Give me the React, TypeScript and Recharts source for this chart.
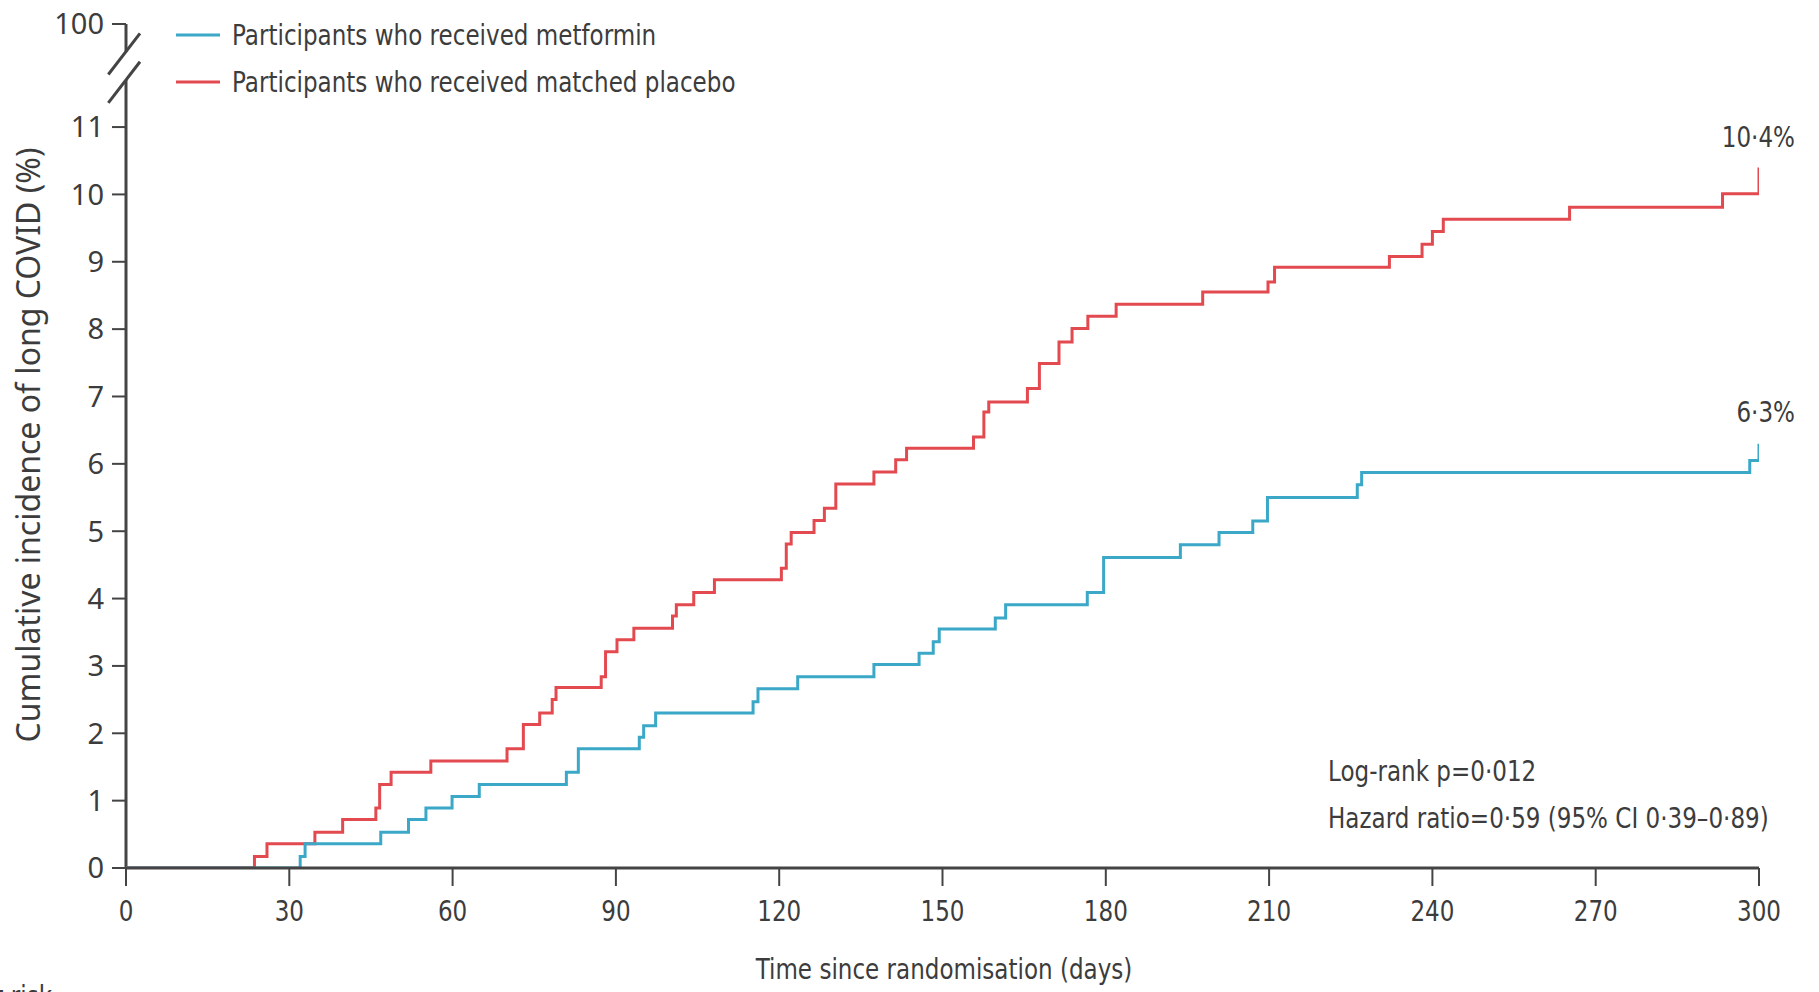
import React from 'react';
import { LineChart, Line, XAxis, YAxis, ReferenceLine, ReferenceDot, Label, Customized } from 'recharts';

// Kaplan-Meier style cumulative incidence (step points: day, %)
const placeboDays = [0, 23.6, 25.9, 34.7, 39.8, 45.9, 46.6, 48.7, 56.0, 70.0, 73.0, 76.0, 78.3, 79.0, 87.3, 88.1, 90.2, 93.3, 100.4, 101.1, 104.3, 108.1, 120.4, 121.3, 122.2, 126.4, 128.3, 130.4, 137.4, 141.4, 143.4, 155.7, 157.6, 158.5, 165.6, 167.8, 171.4, 173.8, 176.7, 181.9, 197.8, 209.8, 211.0, 232.1, 238.1, 240.0, 242.0, 265.2, 293.3, 300];
const placeboPct = [0, 0.17, 0.36, 0.53, 0.72, 0.89, 1.24, 1.42, 1.59, 1.77, 2.13, 2.30, 2.50, 2.68, 2.84, 3.21, 3.39, 3.56, 3.74, 3.91, 4.09, 4.28, 4.45, 4.81, 4.98, 5.16, 5.34, 5.70, 5.88, 6.06, 6.23, 6.40, 6.77, 6.92, 7.12, 7.49, 7.81, 8.01, 8.19, 8.37, 8.55, 8.70, 8.92, 9.08, 9.26, 9.45, 9.63, 9.81, 10.01, 10.4];

const metforminDays = [0, 32.0, 32.9, 46.8, 51.9, 55.1, 59.9, 64.9, 80.9, 83.1, 94.3, 95.1, 97.3, 115.2, 116.1, 123.4, 137.4, 145.7, 148.3, 149.4, 159.7, 161.6, 176.6, 179.6, 193.7, 200.8, 207.0, 209.7, 226.2, 227.0, 298.3, 300];
const metforminPct = [0, 0.17, 0.36, 0.53, 0.72, 0.89, 1.06, 1.24, 1.42, 1.77, 1.94, 2.11, 2.30, 2.47, 2.66, 2.84, 3.02, 3.19, 3.36, 3.55, 3.71, 3.91, 4.09, 4.61, 4.80, 4.98, 5.15, 5.50, 5.69, 5.87, 6.05, 6.3];

const xTicks = [0, 30, 60, 90, 120, 150, 180, 210, 240, 270, 300];
const BREAK_TOP = 12.53; // axis position standing for 100 (broken axis)
const yTicks = [0, 1, 2, 3, 4, 5, 6, 7, 8, 9, 10, 11, BREAK_TOP];

const seriesNames = ['Participants who received metformin', 'Participants who received matched placebo'];
const finalLabels = ['6·3%', '10·4%'];
const statsLines = ['Log-rank p=0·012', 'Hazard ratio=0·59 (95% CI 0·39–0·89)'];

const BLUE = '#3ba8c8';
const RED = '#e24a50';
const AXIS = '#444';
const TEXT = '#3c3c3c';
const NARROW = "'DejaVu Sans', sans-serif";
const WIDE = "'Noto Sans', 'Open Sans', sans-serif";
const SQUEEZE = 0.795;

const placeboData = placeboDays.map((d, i) => ({ day: d, pct: placeboPct[i] }));
const metforminData = metforminDays.map((d, i) => ({ day: d, pct: metforminPct[i] }));

const NarrowText = ({ x, y, anchor = 'start', size = 29, children }: any) => (
  <text
    transform={`translate(${x},${y}) scale(${SQUEEZE},1)`}
    textAnchor={anchor}
    fontSize={size}
    fontFamily={NARROW}
    fill={TEXT}
  >
    {children}
  </text>
);

const XTick = (props: any) => {
  const { x, y, payload } = props;
  return <NarrowText x={x} y={y + 21} anchor="middle">{payload.value}</NarrowText>;
};

const Extras = () => (
  <g>
    {[BLUE, RED].map((c, i) => (
      <g key={i}>
        <line x1={176} x2={220} y1={35 + i * 47} y2={35 + i * 47} stroke={c} strokeWidth={3} />
        <NarrowText x={232} y={45 + i * 47}>{seriesNames[i]}</NarrowText>
      </g>
    ))}
    <NarrowText x={1328} y={781}>{statsLines[0]}</NarrowText>
    <NarrowText x={1328} y={828}>{statsLines[1]}</NarrowText>
    <NarrowText x={52} y={1006} anchor="end">Number at risk</NarrowText>
  </g>
);

const endLabel = (text: string, offset: number) => (p: any) => {
  const vb = p.viewBox || {};
  const cx = (vb.x || 0) + (vb.width || 0) / 2;
  const cy = (vb.y || 0) + (vb.height || 0) / 2;
  return <NarrowText x={cx + 36} y={cy - offset} anchor="end">{text}</NarrowText>;
};

export default function App() {
  return (
    <div style={{ width: 1819, height: 992, background: '#fff', position: 'relative' }}>
      <style>{`body{margin:0;background:#fff}`}</style>
      <LineChart width={1819} height={992} margin={{ top: 24, right: 60, left: 0, bottom: 0 }}>
        <XAxis
          type="number"
          dataKey="day"
          domain={[0, 300]}
          ticks={xTicks}
          allowDataOverflow
          height={124}
          axisLine={{ stroke: AXIS, strokeWidth: 3 }}
          tickLine={{ stroke: AXIS, strokeWidth: 2 }}
          tickSize={18}
          tickMargin={14}
          tick={XTick}
        >
          <Label content={() => <NarrowText x={944} y={979} anchor="middle">Time since randomisation (days)</NarrowText>} />
        </XAxis>
        <YAxis
          type="number"
          domain={[0, BREAK_TOP]}
          ticks={yTicks}
          allowDataOverflow
          width={126}
          axisLine={false}
          tickLine={{ stroke: AXIS, strokeWidth: 2 }}
          tickSize={14}
          tickMargin={8}
          tick={{ fill: TEXT, fontSize: 29, fontFamily: WIDE }}
          tickFormatter={(v: number) => (v === BREAK_TOP ? '100' : String(v))}
        >
          <Label
            content={() => (
              <text x={40} y={445} transform="rotate(-90 40 445)" textAnchor="middle" fontSize={32} fontFamily={WIDE} fill={TEXT}>
                Cumulative incidence of long COVID (%)
              </text>
            )}
          />
        </YAxis>
        {/* broken y axis */}
        <ReferenceLine segment={[{ x: 0, y: 0 }, { x: 0, y: 11.7 }]} stroke={AXIS} strokeWidth={3} ifOverflow="visible" />
        <ReferenceLine segment={[{ x: 0, y: 12.12 }, { x: 0, y: BREAK_TOP }]} stroke={AXIS} strokeWidth={3} ifOverflow="visible" />
        <ReferenceLine segment={[{ x: -3.25, y: 11.78 }, { x: 2.57, y: 12.39 }]} stroke={AXIS} strokeWidth={3} ifOverflow="visible" />
        <ReferenceLine segment={[{ x: -3.25, y: 11.36 }, { x: 2.57, y: 11.97 }]} stroke={AXIS} strokeWidth={3} ifOverflow="visible" />

        <Line data={placeboData} dataKey="pct" type="stepAfter" stroke={RED} strokeWidth={3} dot={false} isAnimationActive={false} name={seriesNames[1]} />
        <Line data={metforminData} dataKey="pct" type="stepAfter" stroke={BLUE} strokeWidth={3} dot={false} isAnimationActive={false} name={seriesNames[0]} />

        <ReferenceDot x={300} y={placeboPct[placeboPct.length - 1]} r={0} ifOverflow="visible"
          label={{ content: endLabel(finalLabels[1], 20) }} />
        <ReferenceDot x={300} y={metforminPct[metforminPct.length - 1]} r={0} ifOverflow="visible"
          label={{ content: endLabel(finalLabels[0], 22) }} />

        <Customized component={Extras} />
      </LineChart>
    </div>
  );
}
